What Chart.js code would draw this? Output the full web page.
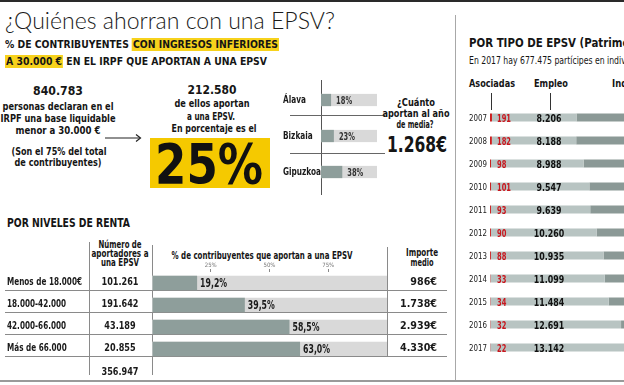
<!DOCTYPE html>
<html>
<head>
<meta charset="utf-8">
<script src="https://cdn.jsdelivr.net/npm/chart.js@4.4.0/dist/chart.umd.min.js"></script>
<style>
html, body { margin: 0; padding: 0; width: 624px; height: 385px; overflow: hidden; background: #fff; }
body { position: relative; font-family: "DejaVu Sans Condensed", sans-serif; color: #151515; }
.t { position: absolute; white-space: nowrap; line-height: 1; transform: translate(0, -50%); transform-origin: 0 50%; }
.c { transform: translate(-50%, -50%); transform-origin: 50% 50%; }
.b { font-weight: bold; }
.hl { background: #f7d21c; padding: 1px 1px; }
.ln { position: absolute; background: #8a8a8a; }
canvas { position: absolute; }
</style>
</head>
<body>

<div class="ln" style="left:0;top:0;width:624px;height:2px;background:#2a2a2a"></div>
<div class="ln" style="left:455px;top:15px;width:1px;height:366px;background:#a8a8a8"></div>
<div class="ln" style="left:0;top:380px;width:624px;height:2px;background:#9a9a9a"></div>

<div class="t" data-w="330" style="left:5px;top:20px;font:300 23px Lato, sans-serif;color:#1a1a1a">¿Quiénes ahorran con una EPSV?</div>
<div class="t b" data-w="274" style="left:5px;top:45px;font-size:10px">% DE CONTRIBUYENTES <span class="hl">CON INGRESOS INFERIORES</span></div>
<div class="t b" data-w="262" style="left:5px;top:61.5px;font-size:10px"><span class="hl">A 30.000 €</span> EN EL IRPF QUE APORTAN A UNA EPSV</div>

<!-- bloque izquierdo -->
<div class="t c b" data-w="50" style="left:58px;top:91px;font-size:12.5px">840.783</div>
<div class="t c b" data-w="111" style="left:58px;top:106px;font-size:10.5px">personas declaran en el</div>
<div class="t c b" data-w="115" style="left:58px;top:118px;font-size:10.5px">IRPF una base liquidable</div>
<div class="t c b" data-w="85" style="left:58px;top:130px;font-size:10.5px">menor a 30.000 €</div>
<div class="t c b" data-w="95" style="left:59px;top:151px;font-size:10.5px">(Son el 75% del total</div>
<div class="t c b" data-w="87" style="left:58px;top:162px;font-size:10.5px">de contribuyentes)</div>
<svg style="position:absolute;left:104px;top:133px" width="38" height="10">
  <line x1="1" y1="5" x2="36" y2="5" stroke="#222" stroke-width="1.2"/>
  <polyline points="32,1.5 36.5,5 32,8.5" fill="none" stroke="#222" stroke-width="1.2"/>
</svg>

<div class="t c b" data-w="49" style="left:212px;top:90px;font-size:12.5px">212.580</div>
<div class="t c b" data-w="75" style="left:212px;top:103px;font-size:10.5px">de ellos aportan</div>
<div class="t c b" data-w="48" style="left:211px;top:115.5px;font-size:10.5px">a una EPSV.</div>
<div class="t c b" data-w="85" style="left:214px;top:128px;font-size:10.5px">En porcentaje es el</div>
<div style="position:absolute;left:150px;top:138px;width:120px;height:50px;background:#f5c900"></div>
<div class="t c b" data-w="108" style="left:209px;top:164px;font-size:55px;color:#111">25%</div>

<div class="ln" style="left:321px;top:80px;width:1px;height:115px;background:#555"></div>
<div class="ln" style="left:290px;top:115px;width:95px;height:1px;background:#666"></div>
<div class="ln" style="left:290px;top:153px;width:95px;height:1px;background:#666"></div>

<div class="t c b" data-w="38" style="left:416px;top:102px;font-size:10.5px">¿Cuánto</div>
<div class="t c b" data-w="67" style="left:416px;top:113px;font-size:10.5px">aportan al año</div>
<div class="t c b" data-w="37" style="left:415px;top:124px;font-size:10.5px">de media?</div>
<div class="t c b" data-w="60" style="left:417px;top:145px;font-size:21.5px">1.268€</div>

<!-- por niveles de renta -->
<div class="t b" data-w="123" style="left:7px;top:223px;font-size:12px">POR NIVELES DE RENTA</div>
<div class="t c b" data-w="43" style="left:120px;top:245px;font-size:10px">Número de</div>
<div class="t c b" data-w="57" style="left:120px;top:254px;font-size:10px">aportadores a</div>
<div class="t c b" data-w="38" style="left:120px;top:263px;font-size:10px">una EPSV</div>
<div class="t c b" data-w="181" style="left:262px;top:256px;font-size:10px">% de contribuyentes que aportan a una EPSV</div>
<div class="t c b" data-w="32" style="left:422px;top:253px;font-size:10px">Importe</div>
<div class="t c b" data-w="23" style="left:422px;top:263px;font-size:10px">medio</div>
<div class="ln" style="left:89px;top:242px;width:1px;height:133px"></div>
<div class="ln" style="left:152px;top:245px;width:1px;height:130px"></div>
<div class="ln" style="left:387px;top:247px;width:1px;height:110px"></div>

<!-- por tipo de EPSV -->
<div class="t b" data-w="107" style="left:469px;top:43px;font-size:12px"><span class="m">POR TIPO DE EPSV</span> (Patrimonio en millones de euros)</div>
<div class="t" data-w="83" style="left:469px;top:61px;font-size:10px"><span class="m">En 2017 hay 677.475</span> partícipes en individuales</div>
<div class="t b" data-w="46" style="left:469px;top:83px;font-size:11px">Asociadas</div>
<div class="t b" data-w="34" style="left:534px;top:83px;font-size:11px">Empleo</div>
<div class="t b" data-w="58" style="left:612px;top:83px;font-size:11px"><span class="m">Individuales</span></div>
<div class="ln" style="left:491px;top:93px;width:1px;height:17px;background:#333"></div>
<div class="ln" style="left:550px;top:93px;width:1px;height:17px;background:#333"></div>

<canvas id="provChart" style="left:280px;top:82px" width="100" height="108"></canvas>
<canvas id="rentaChart" style="left:0;top:260px" width="455" height="116"></canvas>
<canvas id="tipoChart" style="left:460px;top:105.5px" width="339" height="253"></canvas>

<script>
// provincias
const provincias = ['Álava', 'Bizkaia', 'Gipuzkoa'];
const pctProvincia = [18, 23, 38];

// niveles de renta
const niveles = ['Menos de 18.000€', '18.000-42.000', '42.000-66.000', 'Más de 66.000'];
const aportadores = [101261, 191642, 43189, 20855];
const pctRenta = [19.2, 39.5, 58.5, 63.0];
const importeMedio = [986, 1738, 2939, 4330];
const rentaTicks = [25, 50, 75];

// tipo de EPSV (patrimonio, millones de euros)
const years = ['2007', '2008', '2009', '2010', '2011', '2012', '2013', '2014', '2015', '2016', '2017'];
const asociadas = [191, 182, 98, 101, 93, 90, 88, 33, 34, 32, 22];
const empleo = [8206, 8188, 8988, 9547, 9639, 10260, 10935, 11099, 11484, 12691, 13142];
const individuales = [10980, 9840, 10560, 10870, 10530, 10800, 11260, 11870, 12250, 12630, 13200];

const DARK = '#8e9e9b';
const TRACK = '#d9d9d9';
const FONT = '"DejaVu Sans Condensed", sans-serif';

// squeeze html text to the widths measured on the original
document.querySelectorAll('[data-w]').forEach(el => {
    const ref = el.querySelector('.m') || el;
    const w = ref.getBoundingClientRect().width;
    const s = parseFloat(el.dataset.w) / w;
    const tr = el.classList.contains('c') ? 'translate(-50%, -50%)' : 'translate(0, -50%)';
    el.style.transform = tr + ' scaleX(' + s.toFixed(3) + ')';
});

Chart.defaults.animation = false;
Chart.defaults.responsive = false;
Chart.defaults.plugins.legend.display = false;
Chart.defaults.plugins.tooltip.enabled = false;

const fmt = n => String(n).replace(/\B(?=(\d{3})+(?!\d))/g, '.');
const fmtPct = v => v.toFixed(1).replace('.', ',') + '%';

// narrow text on canvas: scale so that refText gets refWidth
function squeeze(ctx, font, refText, refWidth) {
    ctx.font = font;
    return refWidth / ctx.measureText(refText).width;
}
function txt(ctx, s, x, y, align, sx) {
    ctx.save();
    ctx.translate(x, y);
    ctx.scale(sx, 1);
    ctx.textAlign = align;
    ctx.fillText(s, 0, 0);
    ctx.restore();
}

// track behind the bars, drawn from the x scale 0..100
function drawTracks(chart, color) {
    const { ctx, scales: { x } } = chart;
    const x0 = x.getPixelForValue(0), x1 = x.getPixelForValue(100);
    ctx.save();
    ctx.fillStyle = color;
    chart.getDatasetMeta(0).data.forEach(bar => {
        const p = bar.getProps(['y', 'height'], true);
        ctx.fillRect(x0, p.y - p.height / 2, x1 - x0, p.height);
    });
    ctx.restore();
}

const provPlugin = {
    id: 'provPlugin',
    beforeDatasetsDraw(chart) { drawTracks(chart, TRACK); },
    afterDatasetsDraw(chart) {
        const { ctx } = chart;
        ctx.save();
        ctx.textBaseline = 'middle';
        const fl = 'bold 10.5px ' + FONT, fv = 'bold 10px ' + FONT;
        const sl = squeeze(ctx, fl, 'Gipuzkoa', 38);
        const sv = squeeze(ctx, fv, '18%', 16);
        chart.getDatasetMeta(0).data.forEach((bar, i) => {
            const p = bar.getProps(['x', 'y'], true);
            ctx.fillStyle = '#1a1a1a';
            ctx.font = fl;
            txt(ctx, provincias[i], 3, p.y, 'left', sl);
            ctx.font = fv;
            ctx.fillStyle = '#333';
            txt(ctx, pctProvincia[i] + '%', p.x + 5, p.y + 1, 'left', sv);
        });
        ctx.restore();
    }
};

new Chart(document.getElementById('provChart'), {
    type: 'bar',
    data: {
        labels: provincias,
        datasets: [{ data: pctProvincia, backgroundColor: DARK, barPercentage: 1, categoryPercentage: 0.34 }]
    },
    options: {
        indexAxis: 'y',
        layout: { padding: { left: 41, right: 3, top: 0, bottom: 0 } },
        scales: {
            x: { display: false, min: 0, max: 100 },
            y: { display: false }
        }
    },
    plugins: [provPlugin]
});

const rentaPlugin = {
    id: 'rentaPlugin',
    beforeDatasetsDraw(chart) {
        drawTracks(chart, TRACK);
        const { ctx } = chart;
        ctx.save();
        ctx.strokeStyle = '#8a8a8a';
        ctx.lineWidth = 1;
        chart.getDatasetMeta(0).data.forEach(bar => {
            const p = bar.getProps(['y', 'height'], true);
            const yy = Math.round(p.y + p.height / 2) + 0.5;
            ctx.beginPath();
            ctx.moveTo(5, yy);
            ctx.lineTo(447, yy);
            ctx.stroke();
        });
        ctx.restore();
    },
    afterDatasetsDraw(chart) {
        const { ctx } = chart;
        ctx.save();
        ctx.textBaseline = 'middle';
        ctx.fillStyle = '#1a1a1a';
        const f = 'bold 11px ' + FONT, fv = 'bold 11.5px ' + FONT;
        const sl = squeeze(ctx, f, 'Menos de 18.000€', 75);
        const sn = squeeze(ctx, f, '101.261', 37);
        const si = squeeze(ctx, f, '1.738€', 37);
        const sv = squeeze(ctx, fv, '19,2%', 27);
        let lastY = 0;
        chart.getDatasetMeta(0).data.forEach((bar, i) => {
            const p = bar.getProps(['x', 'y'], true);
            const ty = p.y - 1;
            ctx.font = f;
            txt(ctx, niveles[i], 7, ty, 'left', sl);
            txt(ctx, fmt(aportadores[i]), 120, ty, 'center', sn);
            txt(ctx, fmt(importeMedio[i]) + '€', 437, ty, 'right', si);
            ctx.font = fv;
            txt(ctx, fmtPct(pctRenta[i]), p.x + 3, p.y + 1, 'left', sv);
            lastY = p.y;
        });
        ctx.font = f;
        txt(ctx, fmt(aportadores.reduce((a, b) => a + b, 0)), 120, lastY + 23, 'center', sn);
        ctx.restore();
    }
};

new Chart(document.getElementById('rentaChart'), {
    type: 'bar',
    data: {
        labels: niveles,
        datasets: [{ data: pctRenta, backgroundColor: DARK, barPercentage: 1, categoryPercentage: 0.66 }]
    },
    options: {
        indexAxis: 'y',
        layout: { padding: { left: 152, right: 68, top: 0, bottom: 16 } },
        scales: {
            x: {
                position: 'top', min: 0, max: 100,
                afterFit: s => { s.height = 12; },
                border: { display: false },
                grid: {
                    drawOnChartArea: false, tickLength: 3,
                    color: c => rentaTicks.includes(c.tick.value) ? '#888' : 'rgba(0,0,0,0)'
                },
                ticks: {
                    stepSize: 25, padding: 0, color: '#777',
                    font: { size: 6, family: FONT },
                    callback: v => rentaTicks.includes(v) ? v + '%' : ''
                }
            },
            y: { display: false }
        }
    },
    plugins: [rentaPlugin]
});

const tipoPlugin = {
    id: 'tipoPlugin',
    afterDatasetsDraw(chart) {
        const { ctx } = chart;
        ctx.save();
        ctx.textBaseline = 'middle';
        const fy = '9.5px ' + FONT, fa = 'bold 10.5px ' + FONT, fe = 'bold 11px ' + FONT;
        const sy = squeeze(ctx, fy, '2007', 18);
        const sa = squeeze(ctx, fa, '191', 14);
        const se = squeeze(ctx, fe, '8.206', 25);
        chart.getDatasetMeta(0).data.forEach((bar, i) => {
            const p = bar.getProps(['base', 'y'], true);
            const ty = p.y + 1.5;
            ctx.fillStyle = '#1a1a1a';
            ctx.font = fy;
            txt(ctx, years[i], p.base - 3, ty, 'right', sy);
            ctx.fillStyle = '#c8161d';
            ctx.font = fa;
            txt(ctx, String(asociadas[i]), p.base + 7, ty, 'left', sa);
            ctx.fillStyle = '#111';
            ctx.font = fe;
            txt(ctx, fmt(empleo[i]), p.base + 59, ty, 'center', se);
        });
        ctx.restore();
    }
};

new Chart(document.getElementById('tipoChart'), {
    type: 'bar',
    data: {
        labels: years,
        datasets: [
            { label: 'Asociadas', data: asociadas, backgroundColor: '#cc1f1f', barPercentage: 1, categoryPercentage: 0.35 },
            { label: 'Empleo', data: empleo, backgroundColor: '#b8c4c2', barPercentage: 1, categoryPercentage: 0.35 },
            { label: 'Individuales', data: individuales, backgroundColor: '#8b9996', barPercentage: 1, categoryPercentage: 0.35 }
        ]
    },
    options: {
        indexAxis: 'y',
        layout: { padding: { left: 30, right: 0, top: 0, bottom: 0 } },
        scales: {
            x: { display: false, stacked: true, min: 0, max: 30000 },
            y: { display: false, stacked: true }
        }
    },
    plugins: [tipoPlugin]
});
</script>
</body>
</html>
